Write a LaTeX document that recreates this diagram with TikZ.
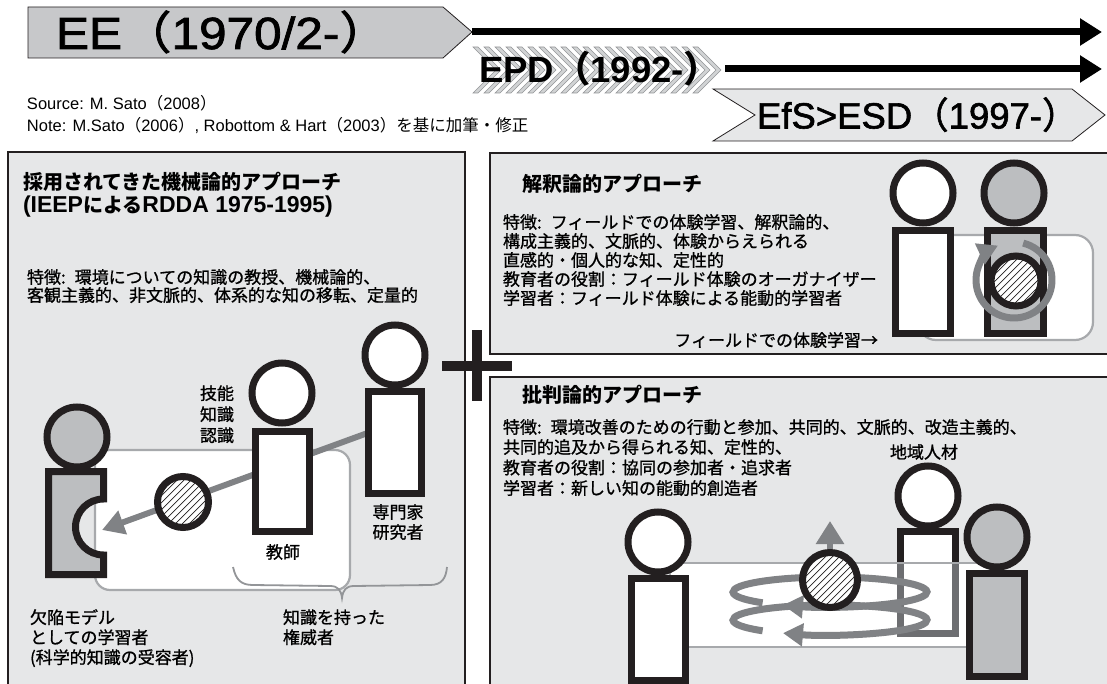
\documentclass[tikz,border=0pt]{standalone}
\usepackage{fontspec}
\setmainfont{Liberation Sans}
\newfontfamily\jp{Noto Sans CJK JP}
% medium-weight faces: the upright face slightly emboldened
\newfontfamily\jpm{Noto Sans CJK JP}[BoldFont={Noto Sans CJK JP}, BoldFeatures={FakeBold=1}]
\newfontfamily\sansm{Liberation Sans}[BoldFont={Liberation Sans}, BoldFeatures={FakeBold=1.6}]
\newfontfamily\jpmb{Noto Sans CJK JP}[BoldFont={Noto Sans CJK JP}, BoldFeatures={FakeBold=1.6}]
\usetikzlibrary{arrows.meta,calc}

\definecolor{panelbg}{HTML}{E6E7E8}
\definecolor{figgray}{HTML}{BCBEC0}
\definecolor{bannergray}{HTML}{C7C8CA}
\definecolor{flowgray}{HTML}{808285}
\definecolor{fieldline}{HTML}{A7A9AC}
\definecolor{chevfill}{HTML}{D1D3D4}
\definecolor{chevline}{HTML}{939598}
\definecolor{ink}{HTML}{231F20}
\definecolor{fadeink}{HTML}{6D6E71}

\newcommand\fsz[1]{\fontsize{#1}{#1}\selectfont}
\newcommand\bpar[1]{{\jpmb\bfseries #1}}
\newcommand\feat{特徴:\kern9pt}

\tikzset{
  panel/.style={fill=panelbg, draw=ink, line width=1.3pt},
  field/.style={fill=white, draw=fieldline, line width=2.2pt},
  head/.style={circle, draw=ink, line width=7pt, fill=white, minimum size=60pt, inner sep=0pt, outer sep=0pt},
  body/.style={rectangle, draw=ink, line width=7pt, fill=white, inner sep=0pt, outer sep=0pt},
  grayfig/.style={fill=figgray},
  disc/.style={circle, draw=ink, line width=7pt, fill=white, inner sep=0pt, outer sep=0pt,
    path picture={\foreach \k in {-8,...,8}
      \draw[line width=0.7pt] ([xshift={\k*7pt-50pt}, yshift=-50pt]path picture bounding box.center) -- ++(100pt,100pt);}},
  flow/.style={draw=flowgray, line width=6pt, -{Triangle[length=22pt,width=24pt]}},
  cycleflow/.style={draw=flowgray, line width=7pt, -{Triangle[length=20pt,width=22pt]}},
  timeline/.style={draw=black, line width=7pt, -{Triangle[length=22pt,width=26pt]}},
  banner/.style={draw=ink, line width=0.8pt},
  bannertext/.style={anchor=base west, inner sep=0pt, outer sep=0pt},
  chevron/.style={fill=chevfill, draw=chevline, line width=0.6pt},
  lbl/.style={inner sep=0pt, outer sep=0pt, font=\jpm\bfseries\fsz{17}},
  lbll/.style={lbl, anchor=base west},
  ttl/.style={inner sep=0pt, outer sep=0pt, anchor=base west, font=\jp\bfseries\fsz{20}},
  src/.style={inner sep=0pt, outer sep=0pt, anchor=base west, font=\fsz{16.5}},
}

\begin{document}
\begin{tikzpicture}[x=1pt,y=-1pt]
\useasboundingbox (0,0) rectangle (1107,684);
\fill[white] (0,0) rectangle (1107,684);

% ---------- timeline banners ----------
\coordinate (eeTip) at (472,32);
\coordinate (eeEnd) at (1102,32);
\coordinate (epdTip) at (725,69);
\coordinate (epdEnd) at (1102,69);

\draw[banner, fill=bannergray] (28,7) -- (443,7) -- (eeTip) -- (443,58) -- (28,58) -- cycle;
\node[bannertext, font=\sansm\bfseries\fsz{45}] (ee) at (56,49) {\scalebox{1.1}[1]{EE\bpar{（}1970/2-\bpar{）}}};
\draw[timeline] (eeTip) -- (eeEnd);

\foreach \i in {0,...,20}
  \draw[chevron] ({473+11*\i},47) -- ++(5,0) -- ++(23,23) -- ++(-23,23) -- ++(-5,0) -- ++(23,-23) -- cycle;
\node[bannertext, font=\bfseries\fsz{36.5}] (epd) at (479,83) {EPD{\jp\bfseries （}1992-{\jp\bfseries ）}};
\draw[timeline] (epdTip) -- (epdEnd);

\draw[banner, fill=panelbg] (713,89) -- (1072,89) -- (1105,115) -- (1072,141) -- (713,141) -- (755,115) -- cycle;
\node[bannertext, font=\sansm\bfseries\fsz{36.5}] (efs) at (757,128.5) {EfS>ESD\bpar{（}1997-\bpar{）}};

\node[src] (srcA) at (27,110) {Source: M. Sato{\jp （}2008{\jp ）}};
\node[src] (srcB) at (27,132) {Note: M.Sato{\jp （}2006{\jp ）}, Robottom \& Hart{\jp （}2003{\jp ）を基に加筆・修正}};

% ---------- panels ----------
\draw[panel] (8,152) rectangle (465,690);
\draw[panel] (490,153) rectangle (1112,354);
\draw[panel] (490,377) rectangle (1112,690);

% ---------- mechanistic approach ----------
\draw[field, rounded corners=15pt] (95,450) rectangle (350,590);
\coordinate (kSrc) at (395,423);
\coordinate (kDst) at (102,530);
\draw[flow] (kSrc) -- (kDst);
\draw[draw=chevline, line width=1.8pt] (233,567) .. controls (236,580) and (241,585) .. (253,585) -- (330,586)
  .. controls (338,586) and (341,590) .. (342,598) .. controls (343,590) and (346,586) .. (354,586)
  -- (430,585) .. controls (442,585) and (446,578) .. (447,567);

\node[head, grayfig] (lHead) at (77,437) {};
\draw[draw=ink, line width=7pt, grayfig] (48.5,471.5) -- (103.5,471.5) -- (103.5,499)
  arc[start angle=90, end angle=270, radius=28pt] -- (103.5,574.5) -- (48.5,574.5) -- cycle;
\node[body, minimum width=54pt, minimum height=100pt] (tBody) at (282.5,481.5) {};
\node[head] (tHead) at (282,393) {};
\node[body, minimum width=53pt, minimum height=102pt] (eBody) at (395,442.5) {};
\node[head] (eHead) at (395,355) {};
\node[disc, minimum size=51pt] (kDisc) at (183,502) {};

\node[ttl] (lt1) at (23,189.6) {採用されてきた機械論的アプローチ};
\node[ttl] (lt2) at (23,212.6) {{\rmfamily\fsz{23}(IEEP}による{\rmfamily\fsz{23}RDDA 1975-1995)}};
\node[lbll] (ld1) at (27,283.5) {\feat 環境についての知識の教授、機械論的、};
\node[lbll] (ld2) at (27,301.5) {客観主義的、非文脈的、体系的な知の移転、定量的};
\node[lbll] (sk1) at (200,399.7) {技能};
\node[lbll] (sk2) at (200,420.7) {知識};
\node[lbll] (sk3) at (200,441.7) {認識};
\node[lbl] (tLab) at (283,552) {教師};
\node[lbl] (eLab1) at (398,512) {専門家};
\node[lbl] (eLab2) at (398,532) {研究者};
\node[lbll] (lLab1) at (30,623.7) {欠陥モデル};
\node[lbll] (lLab2) at (30,643.7) {としての学習者};
\node[lbll] (lLab3) at (30,663.7) {(科学的知識の受容者)};
\node[lbll] (aLab1) at (283,623.7) {知識を持った};
\node[lbll] (aLab2) at (283,643.7) {権威者};

% ---------- interpretive approach ----------
\draw[field, rounded corners=18pt] (918,235) rectangle (1093,340);
\node[body, minimum width=55pt, minimum height=103pt] (iL) at (923,282) {};
\node[head] (iLh) at (923,193) {};
\node[body, grayfig, minimum width=56pt, minimum height=103pt] (iR) at (1015.5,282) {};
\node[head, grayfig] (iRh) at (1014,193) {};
\coordinate (iRing) at (1014,280);
\draw[cycleflow] ($(iRing)+(76:38pt)$) arc[start angle=76, end angle=-245, radius=38pt];
\node[disc, minimum size=50pt] (iDisc) at (1016,281) {};

\node[ttl] (it) at (522,191.6) {解釈論的アプローチ};
\node[lbll] (id1) at (503,228.5) {\feat フィールドでの体験学習、解釈論的、};
\node[lbll] (id2) at (503,247.5) {構成主義的、文脈的、体験からえられる};
\node[lbll] (id3) at (503,266.5) {直感的・個人的な知、定性的};
\node[lbll] (id4) at (503,285.5) {教育者の役割：フィールド体験のオーガナイザー};
\node[lbll] (id5) at (503,304.5) {学習者：フィールド体験による能動的学習者};
\node[lbl, anchor=base east] (ifl) at (878,346.5) {フィールドでの体験学習→};

% ---------- critical approach ----------
\node[body, minimum width=55pt, minimum height=102pt] (cM) at (928,582.5) {};
\node[head] (cMh) at (928,496) {};
\coordinate (fA) at (670,563);
\coordinate (fB) at (990,647);
\fill[white] (fA) rectangle (fB);
\begin{scope}
  \clip (fA) rectangle (fB);
  \node[body, draw=fadeink, minimum width=55pt, minimum height=102pt] (cMf) at (928,582.5) {};
\end{scope}
\draw[draw=fieldline, line width=2.2pt] (fA) rectangle (fB);

\coordinate (rU) at (830,592);
\coordinate (rL) at (830,620);
\draw[cycleflow] ($(rL)+(-134:97pt and 15pt)$) arc[start angle=-134, end angle=-479, x radius=97pt, y radius=15pt];
\draw[cycleflow] ($(rU)+(-134:97pt and 15pt)$) arc[start angle=-134, end angle=-479, x radius=97pt, y radius=15pt];
\node[disc, minimum size=55pt] (cDisc) at (830,580) {};
\coordinate (upTip) at (830,521);
\draw[draw=flowgray, line width=6pt, -{Triangle[length=23pt,width=27pt]}] ([yshift=3.5pt]cDisc.north) -- (upTip);

\node[body, minimum width=54pt, minimum height=102pt] (cL) at (658.5,629.5) {};
\node[head] (cLh) at (658,542) {};
\node[body, grayfig, minimum width=55pt, minimum height=103pt] (cR) at (997,625) {};
\node[head, grayfig] (cRh) at (997,537) {};

\node[ttl] (ct) at (522,402.6) {批判論的アプローチ};
\node[lbll] (cd1) at (503,433.5) {\feat 環境改善のための行動と参加、共同的、文脈的、改造主義的、};
\node[lbll] (cd2) at (503,453.5) {共同的追及から得られる知、定性的、};
\node[lbll] (cd3) at (503,474) {教育者の役割：協同の参加者・追求者};
\node[lbll] (cd4) at (503,494.5) {学習者：新しい知の能動的創造者};
\node[lbl] (cm) at (924,452) {地域人材};

% ---------- plus sign ----------
\fill[ink] (472,330) rectangle (482,401);
\fill[ink] (442,361) rectangle (512,371);
\end{tikzpicture}
\end{document}
